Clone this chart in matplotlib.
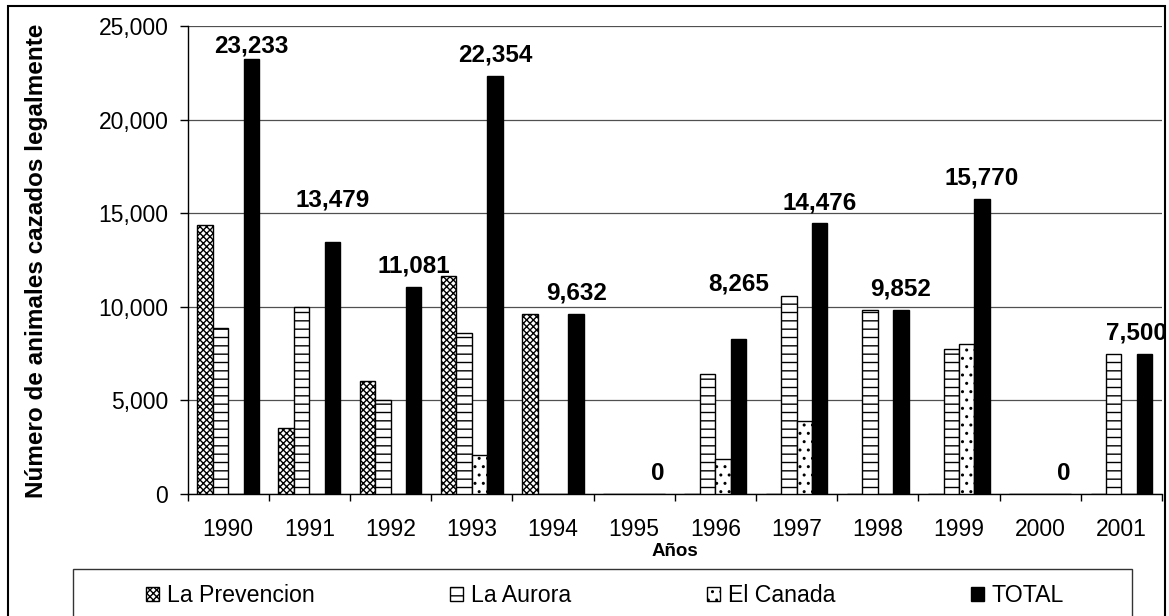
import numpy as np
import matplotlib
matplotlib.use('Agg')
import matplotlib.pyplot as plt
from matplotlib.patches import Rectangle
from matplotlib.ticker import FuncFormatter

plt.rcParams['font.family'] = ['Liberation Sans', 'DejaVu Sans']
plt.rcParams['hatch.linewidth'] = 1.0

years = [1990, 1991, 1992, 1993, 1994, 1995, 1996, 1997, 1998, 1999, 2000, 2001]
la_prevencion = [14383, 3500, 6050, 11650, 9632, 0, 0, 0, 0, 0, 0, 0]
la_aurora = [8850, 9979, 5031, 8600, 0, 0, 6400, 10576, 9852, 7750, 0, 7500]
el_canada = [0, 0, 0, 2104, 0, 0, 1865, 3900, 0, 8020, 0, 0]
total = [23233, 13479, 11081, 22354, 9632, 0, 8265, 14476, 9852, 15770, 0, 7500]

# labels Excel moved by hand (points: dx, dy)
label_shift = {1990: (0, -5), 1991: (0, 15), 1996: (0, 25), 2001: (-6, 0)}

W, H = 1169, 616
fig = plt.figure(figsize=(W / 100, H / 100), dpi=100)
ax = fig.add_axes([187.5 / W, 1 - 494 / H, (1162 - 187.5) / W, (494 - 26) / H])

x = np.arange(len(years))
w = 0.19
series = [
    ('La Prevencion', la_prevencion, 'white', 'xxxxx'),
    ('La Aurora', la_aurora, 'white', '--'),
    ('El Canada', el_canada, 'white', '..'),
    ('TOTAL', total, 'black', None),
]
handles = []
for i, (name, vals, fc, hatch) in enumerate(series):
    b = ax.bar(x + (i - 1.5) * w, vals, w, color=fc, edgecolor='black',
               linewidth=1.0, hatch=hatch, label=name, zorder=3)
    handles.append(b)

for xi, yr, v in zip(x, years, total):
    dx, dy = label_shift.get(yr, (0, 0))
    ax.annotate(f'{v:,}', xy=(xi + 1.5 * w, v), xytext=(dx, 10 + dy),
                textcoords='offset points', ha='center', va='baseline',
                fontsize=17.5, fontweight='bold', zorder=5)

ax.set_xlim(-0.5, len(years) - 0.5)
ax.set_ylim(0, 25000)
ax.set_yticks(np.arange(0, 25001, 5000))
ax.yaxis.set_major_formatter(FuncFormatter(lambda v, p: f'{v:,.0f}'))
ax.yaxis.grid(True, color='#505050', linewidth=0.9, zorder=0)
ax.set_axisbelow(True)

ax.set_xticks(np.arange(-0.5, len(years), 1.0))
ax.set_xticklabels([])
ax.set_xticks(x, labels=[str(y) for y in years], minor=True)
ax.tick_params(axis='x', which='major', length=5, width=1, direction='out')
ax.tick_params(axis='x', which='minor', length=0, pad=17, labelsize=16.5)
ax.tick_params(axis='y', length=5.8, width=1, direction='out', pad=8, labelsize=16.5)

for s in ['top', 'right']:
    ax.spines[s].set_visible(False)
for s in ['left', 'bottom']:
    ax.spines[s].set_linewidth(1.0)

fig.text(37 / W, 1 - 261 / H, 'Número de animales cazados legalmente',
         rotation=90, ha='center', va='center', fontsize=17.5, fontweight='bold')
fig.text(675 / W, 1 - 552 / H, 'Años', ha='center', va='center',
         fontsize=13.5, fontweight='bold')

# outer chart frame and legend box (bottom edges fall outside the picture)
fig.patches.append(Rectangle((8 / W, -0.05), (1165 - 8) / W, 1.05 - 6 / H,
                             transform=fig.transFigure, fill=False,
                             edgecolor='black', linewidth=1.5))
fig.patches.append(Rectangle((73 / W, -0.05), (1132 - 73) / W, 0.05 + 1 - 569 / H,
                             transform=fig.transFigure, fill=False,
                             edgecolor='#333333', linewidth=1.0))

fig.legend(handles, [s[0] for s in series], ncol=4, loc='center',
           bbox_to_anchor=(605 / W, 1 - 596 / H), frameon=False,
           fontsize=16.7, handlelength=0.55, handleheight=0.55,
           handletextpad=0.35, columnspacing=5.85)

fig.savefig('out.png', dpi=100)
